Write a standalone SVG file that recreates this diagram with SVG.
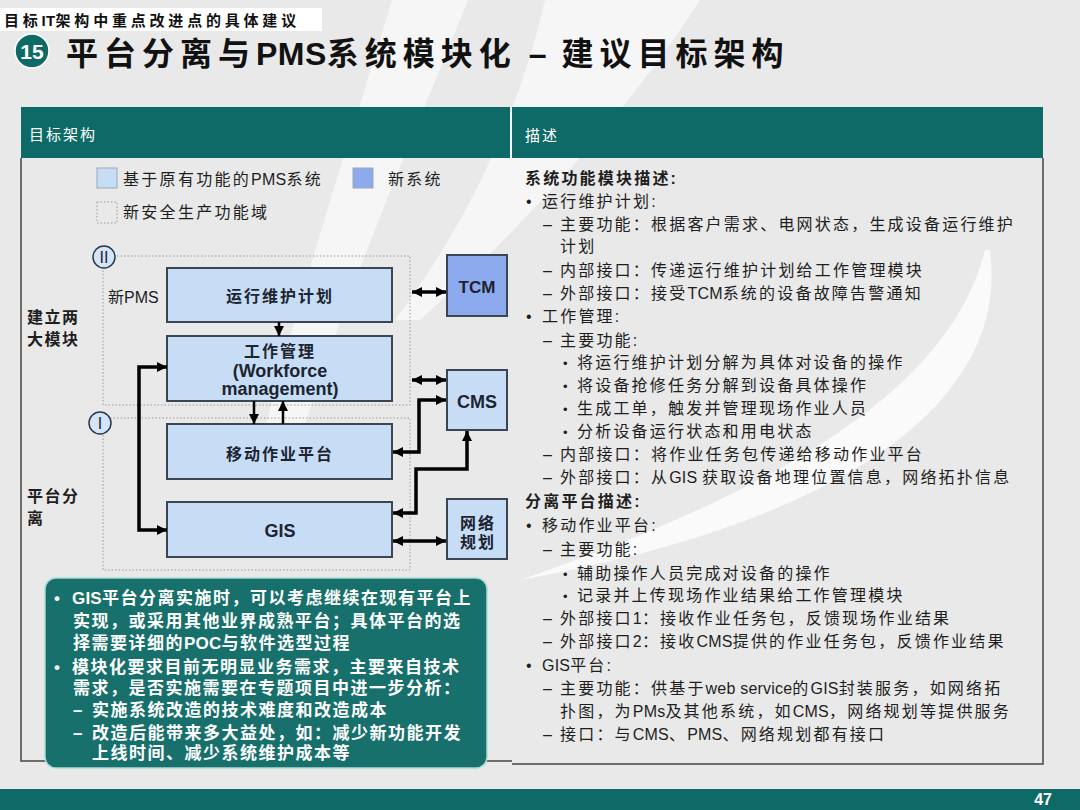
<svg xmlns="http://www.w3.org/2000/svg" width="1080" height="810" viewBox="0 0 1080 810">
<defs>
<marker id="ah" viewBox="0 0 10 10" refX="10" refY="5" markerWidth="10" markerHeight="10" markerUnits="userSpaceOnUse" orient="auto-start-reverse">
<path d="M0,0 L10,5 L0,10 Z" fill="#000"/>
</marker>
</defs>
<style>
text { font-family: "Liberation Sans", "Noto Sans CJK SC", sans-serif; }
.teal { fill: #0e6a66; }
.hdr { fill: #ffffff; font-size: 15px; letter-spacing: 2px; }
.rt { font-size: 16px; letter-spacing: 2.2px; fill: #1e1e1e; }
.rb { font-size: 16px; letter-spacing: 2.2px; fill: #1e1e1e; font-weight: bold; }
.lat { letter-spacing: 0.2px; }
.box { fill: #c7ddf6; stroke: #3b4652; stroke-width: 2; }
.newbox { fill: #8eaaee; stroke: #3b4652; stroke-width: 2; }
.zone { fill: none; stroke: #9a9a9a; stroke-width: 1; stroke-dasharray: 1.5 2; }
.bl { font-size: 16px; font-weight: bold; letter-spacing: 2px; fill: #1c2430; text-anchor: middle; }
.en { font-size: 18px; font-weight: bold; fill: #1c2430; text-anchor: middle; }
.lg { font-size: 16px; letter-spacing: 2.3px; fill: #1e1e1e; }
.side { font-size: 16px; font-weight: bold; letter-spacing: 1.5px; fill: #1e1e1e; }
.co { font-size: 17px; font-weight: bold; letter-spacing: 1.5px; fill: #ffffff; }
.conn { fill: none; stroke: #000; stroke-width: 3.5; marker-start: url(#ah); marker-end: url(#ah); }
.conn1 { fill: none; stroke: #000; stroke-width: 2.5; marker-end: url(#ah); }
</style>

<!-- background -->
<rect x="0" y="0" width="1080" height="810" fill="#e9e9e9"/>
<path d="M392,0 L468,0 C420,120 350,280 300,440 L262,440 C300,290 350,140 392,0 Z" fill="#ffffff" opacity="0.6"/>
<path d="M545,0 L700,0 C630,110 520,230 420,320 L395,320 C470,220 520,110 545,0 Z" fill="#ffffff" opacity="0.6"/>
<path d="M990,250 C1010,400 850,520 520,580 C780,490 950,390 985,250 Z" fill="#ffffff" opacity="0.75"/>

<!-- top label -->
<rect x="0" y="8" width="322" height="23" fill="#ffffff"/>
<text x="4" y="26" font-size="15" font-weight="bold" fill="#111" letter-spacing="3.8">目标<tspan letter-spacing="0.3">IT</tspan>架构中重点改进点的具体建议</text>

<!-- title -->
<g id="title">
<circle cx="32" cy="51" r="17" fill="#0e6a66" stroke="#ffffff" stroke-width="1.5"/>
<text x="32" y="58.5" font-size="21" font-weight="bold" fill="#ffffff" text-anchor="middle">15</text>
<text x="66" y="65" font-size="32" font-weight="bold" fill="#111" letter-spacing="6">平台分离与<tspan letter-spacing="0.5">PMS</tspan>系统模块化<tspan letter-spacing="3"> – </tspan>建议目标架构</text>
</g>

<!-- panels -->
<g id="panels">
<rect x="21" y="107" width="489" height="51" class="teal"/>
<rect x="512" y="107" width="531" height="51" class="teal"/>
<text x="29" y="140" class="hdr">目标架构</text>
<text x="525" y="141" class="hdr">描述</text>
<path d="M21,158 V761 H512" fill="none" stroke="#444" stroke-width="1.5"/>
<path d="M512,764 H1043 V158" fill="none" stroke="#444" stroke-width="1.5"/>
</g>

<!-- legend -->
<g id="legend">
<rect x="97" y="168" width="20" height="20" fill="#c7ddf6" stroke="#9aa9b8" stroke-width="1"/>
<text x="123" y="185" class="lg">基于原有功能的<tspan class="lat">PMS</tspan>系统</text>
<rect x="353" y="168" width="20" height="20" fill="#8eaaee" stroke="#9aa9b8" stroke-width="1"/>
<text x="388" y="185" class="lg">新系统</text>
<rect x="97" y="202" width="20" height="21" class="zone" stroke="#666"/>
<text x="123" y="218" class="lg">新安全生产功能域</text>
</g>

<!-- side labels -->
<text x="27" y="323" class="side">建立两</text>
<text x="27" y="345" class="side">大模块</text>
<text x="27" y="502" class="side">平台分</text>
<text x="27" y="524" class="side">离</text>

<!-- zones -->
<g id="zone-II">
<rect x="103" y="256" width="307" height="149" class="zone"/>
<circle cx="104" cy="257" r="11" fill="#d4e5f7" stroke="#2b3a4a" stroke-width="1.5"/>
<text x="104" y="263" font-size="16" fill="#1c2430" text-anchor="middle">II</text>
<text x="108" y="303" font-size="16" fill="#1e1e1e">新PMS</text>
</g>
<g id="zone-I">
<rect x="103" y="418" width="307" height="152" class="zone"/>
<circle cx="100" cy="423" r="11" fill="#d4e5f7" stroke="#2b3a4a" stroke-width="1.5"/>
<text x="100" y="429" font-size="16" fill="#1c2430" text-anchor="middle">I</text>
</g>

<!-- nodes -->
<g id="node-plan">
<rect x="167" y="268" width="225" height="54" class="box"/>
<text x="280" y="302" class="bl">运行维护计划</text>
</g>
<g id="node-wfm">
<rect x="167" y="336" width="225" height="65" class="box"/>
<text x="280" y="357" class="bl">工作管理</text>
<text x="280" y="377" class="en">(Workforce</text>
<text x="280" y="395" class="en">management)</text>
</g>
<g id="node-mobile">
<rect x="167" y="424" width="225" height="55" class="box"/>
<text x="280" y="460" class="bl">移动作业平台</text>
</g>
<g id="node-gis">
<rect x="167" y="502" width="225" height="55" class="box"/>
<text x="280" y="537" class="en">GIS</text>
</g>
<g id="node-tcm">
<rect x="447" y="255" width="60" height="61" class="newbox"/>
<text x="477" y="293" class="en" style="font-size:17px">TCM</text>
</g>
<g id="node-cms">
<rect x="447" y="370" width="60" height="60" class="box"/>
<text x="477" y="408" class="en">CMS</text>
</g>
<g id="node-net">
<rect x="447" y="499" width="60" height="60" class="box"/>
<text x="478" y="529" class="bl">网络</text>
<text x="478" y="548" class="bl">规划</text>
</g>

<!-- connectors -->
<g id="connectors">
<path d="M279,322 V336" class="conn1"/>
<path d="M254,401 V424" class="conn1"/>
<path d="M283,424 V401" class="conn1"/>
<path d="M167,367 H139 V530 H167" class="conn"/>
<path d="M412,292 H446" class="conn"/>
<path d="M412,380 H446" class="conn"/>
<path d="M393,452 H419 V400 H446" class="conn"/>
<path d="M393,513 H416 V469 H467 V431" class="conn"/>
<path d="M393,541 H446" class="conn"/>
</g>

<!-- callout -->
<g id="callout">
<rect x="45" y="578" width="442" height="190" rx="11" ry="11" fill="#17706b" stroke="#a9dcd5" stroke-width="1.5"/>
<text x="54" y="604" class="co">•</text>
<text x="72" y="604" class="co"><tspan class="lat">GIS</tspan>平台分离实施时，可以考虑继续在现有平台上</text>
<text x="73" y="627" class="co">实现，或采用其他业界成熟平台；具体平台的选</text>
<text x="73" y="649" class="co">择需要详细的<tspan class="lat">POC</tspan>与软件选型过程</text>
<text x="54" y="673" class="co">•</text>
<text x="72" y="673" class="co">模块化要求目前无明显业务需求，主要来自技术</text>
<text x="73" y="694" class="co">需求，是否实施需要在专题项目中进一步分析：</text>
<text x="73" y="716" class="co">–</text>
<text x="92" y="716" class="co">实施系统改造的技术难度和改造成本</text>
<text x="73" y="739" class="co">–</text>
<text x="92" y="739" class="co">改造后能带来多大益处，如：减少新功能开发</text>
<text x="92" y="759" class="co">上线时间、减少系统维护成本等</text>
</g>

<!-- right description -->
<g id="description">
<text x="525" y="184" class="rb">系统功能模块描述:</text>
<text x="526" y="207" class="rt">•</text>
<text x="542" y="207" class="rt">运行维护计划:</text>
<text x="543" y="230" class="rt">–</text>
<text x="560" y="230" class="rt">主要功能：根据客户需求、电网状态，生成设备运行维护</text>
<text x="560" y="252" class="rt">计划</text>
<text x="543" y="276" class="rt">–</text>
<text x="560" y="276" class="rt">内部接口：传递运行维护计划给工作管理模块</text>
<text x="543" y="299" class="rt">–</text>
<text x="560" y="299" class="rt">外部接口：接受<tspan class="lat">TCM</tspan>系统的设备故障告警通知</text>
<text x="526" y="322" class="rt">•</text>
<text x="542" y="322" class="rt">工作管理:</text>
<text x="543" y="346" class="rt">–</text>
<text x="560" y="346" class="rt">主要功能:</text>
<text x="563" y="368" class="rt" style="font-size:13px">•</text>
<text x="577" y="368" class="rt">将运行维护计划分解为具体对设备的操作</text>
<text x="563" y="391" class="rt" style="font-size:13px">•</text>
<text x="577" y="391" class="rt">将设备抢修任务分解到设备具体操作</text>
<text x="563" y="414" class="rt" style="font-size:13px">•</text>
<text x="577" y="414" class="rt">生成工单，触发并管理现场作业人员</text>
<text x="563" y="437" class="rt" style="font-size:13px">•</text>
<text x="577" y="437" class="rt">分析设备运行状态和用电状态</text>
<text x="543" y="460" class="rt">–</text>
<text x="560" y="460" class="rt">内部接口：将作业任务包传递给移动作业平台</text>
<text x="543" y="483" class="rt">–</text>
<text x="560" y="483" class="rt">外部接口：从<tspan class="lat">GIS </tspan>获取设备地理位置信息，网络拓扑信息</text>
<text x="525" y="507" class="rb">分离平台描述:</text>
<text x="526" y="531" class="rt">•</text>
<text x="542" y="531" class="rt">移动作业平台:</text>
<text x="543" y="555" class="rt">–</text>
<text x="560" y="555" class="rt">主要功能:</text>
<text x="563" y="579" class="rt" style="font-size:13px">•</text>
<text x="577" y="579" class="rt">辅助操作人员完成对设备的操作</text>
<text x="563" y="601" class="rt" style="font-size:13px">•</text>
<text x="577" y="601" class="rt">记录并上传现场作业结果给工作管理模块</text>
<text x="543" y="624" class="rt">–</text>
<text x="560" y="624" class="rt">外部接口<tspan class="lat">1</tspan>：接收作业任务包，反馈现场作业结果</text>
<text x="543" y="647" class="rt">–</text>
<text x="560" y="647" class="rt">外部接口<tspan class="lat">2</tspan>：接收<tspan class="lat">CMS</tspan>提供的作业任务包，反馈作业结果</text>
<text x="526" y="671" class="rt">•</text>
<text x="542" y="671" class="rt"><tspan class="lat">GIS</tspan>平台:</text>
<text x="543" y="694" class="rt">–</text>
<text x="560" y="694" class="rt">主要功能：供基于<tspan class="lat">web service</tspan>的<tspan class="lat">GIS</tspan>封装服务，如网络拓</text>
<text x="560" y="717" class="rt">扑图，为<tspan class="lat">PMs</tspan>及其他系统，如<tspan class="lat">CMS</tspan>，网络规划等提供服务</text>
<text x="543" y="740" class="rt">–</text>
<text x="560" y="740" class="rt">接口：与<tspan class="lat">CMS</tspan>、<tspan class="lat">PMS</tspan>、网络规划都有接口</text>
</g>

<!-- footer -->
<rect x="0" y="789" width="1080" height="21" class="teal"/>
<text x="1052" y="805" font-size="16" font-weight="bold" fill="#ffffff" text-anchor="end">47</text>
</svg>
